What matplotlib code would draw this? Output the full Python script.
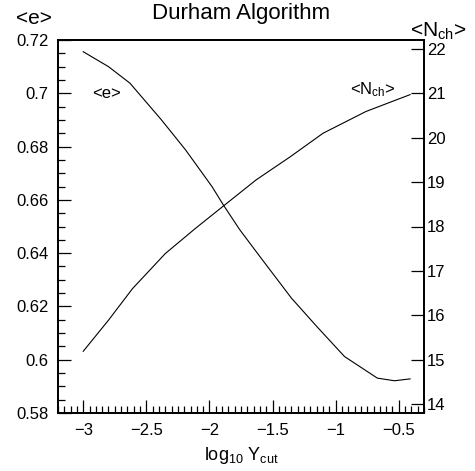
import numpy as np
import matplotlib.pyplot as plt
from matplotlib.ticker import MultipleLocator

plt.rcParams['font.family'] = ['Liberation Sans', 'DejaVu Sans']
plt.rcParams['mathtext.fontset'] = 'custom'
plt.rcParams['mathtext.rm'] = 'Liberation Sans'
plt.rcParams['mathtext.it'] = 'Liberation Sans'

# mean <e> vs log10(Ycut)
x_e = [-3.0, -2.8, -2.63, -2.38, -2.19, -1.98, -1.89, -1.76, -1.60,
       -1.35, -1.15, -0.93, -0.67, -0.535, -0.41]
e_vals = [0.7156, 0.7100, 0.7038, 0.6900, 0.6788, 0.6650, 0.6581, 0.6488,
          0.6387, 0.6231, 0.6125, 0.6012, 0.5931, 0.5921, 0.5928]

# mean charged multiplicity
x_n = [-3.0, -2.8, -2.61, -2.35, -2.11, -1.89, -1.63, -1.36, -1.10,
       -0.76, -0.41]
n_vals = [15.19, 15.89, 16.60, 17.39, 17.96, 18.46, 19.05, 19.57, 20.10,
          20.59, 20.97]

left_ticks = [0.58, 0.60, 0.62, 0.64, 0.66, 0.68, 0.70, 0.72]
left_labels = ['0.58', '0.6', '0.62', '0.64', '0.66', '0.68', '0.7', '0.72']
right_ticks = [14, 15, 16, 17, 18, 19, 20, 21, 22]
x_ticks = [-3, -2.5, -2, -1.5, -1, -0.5]
x_labels = ['\u22123', '\u22122.5', '\u22122', '\u22121.5', '\u22121', '\u22120.5']

fig = plt.figure(figsize=(4.75, 4.71), dpi=100)
ax = fig.add_axes([58 / 475, 58 / 471, 366 / 475, 373 / 471])
ax2 = ax.twinx()

ax.plot(x_e, e_vals, color='black', linewidth=0.8)
ax2.plot(x_n, n_vals, color='black', linewidth=0.8)

ax.set_xlim(-3.2, -0.3)
ax.set_ylim(0.58, 0.72)
ax2.set_ylim(13.8, 22.2)

ax.set_xticks(x_ticks)
ax.set_xticklabels(x_labels)
ax.set_yticks(left_ticks)
ax.set_yticklabels(left_labels)
ax.xaxis.set_minor_locator(MultipleLocator(0.05))
ax.yaxis.set_minor_locator(MultipleLocator(0.005))
ax2.set_yticks(right_ticks)

for a in (ax, ax2):
    for s in a.spines.values():
        s.set_linewidth(1.3)

ax.tick_params(which='major', direction='in', length=9.5, width=0.9,
               labelsize=12, top=False, right=False)
ax.tick_params(which='minor', direction='in', length=5, width=0.9,
               top=False, right=False)
ax.tick_params(axis='y', pad=7)
ax.tick_params(axis='x', pad=7)
ax2.tick_params(which='major', direction='in', length=9.5, width=0.9,
                labelsize=12, pad=2)
ax2.tick_params(which='minor', right=False)

ax.set_xlabel(r'$\mathregular{log_{10}\ Y_{cut}}$', fontsize=13, labelpad=5)

fig.text(0.508, 1 - 13 / 471, 'Durham Algorithm', ha='center', va='center',
         fontsize=16)
fig.text(34 / 475, 1 - 19 / 471, '<e>', ha='center', va='center', fontsize=15)
fig.text(438 / 475, 1 - 31 / 471, r'<N$_{\mathregular{ch}}$>', ha='center',
         va='center', fontsize=15)

ax.text(-2.816, 0.7001, '<e>', ha='center', va='center', fontsize=12)
ax.text(-0.709, 0.7013, r'<N$_{\mathregular{ch}}$>', ha='center',
        va='center', fontsize=12)

fig.savefig('out.png', dpi=100)
